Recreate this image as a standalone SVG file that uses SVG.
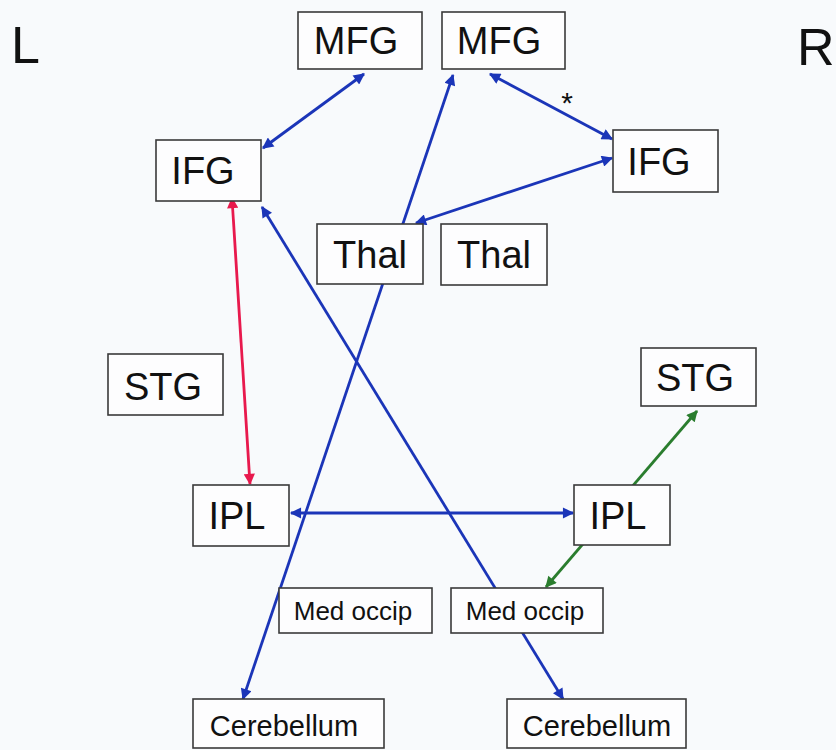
<svg xmlns="http://www.w3.org/2000/svg" width="836" height="750" viewBox="0 0 836 750">
<style>
.bg{fill:#f8fafc}
.box{fill:#fdfdfe;stroke:#3a3a3a;stroke-width:1.6}
.t{font-family:"Liberation Sans",Arial,sans-serif;fill:#111;text-anchor:middle}
.big{font-size:38px}
.sm{font-size:26px}
.cb{font-size:29px}
.side{font-family:"Liberation Sans",Arial,sans-serif;font-size:52px;fill:#111}
.b{stroke:#1b35b8;stroke-width:2.8;fill:none;marker-start:url(#ab);marker-end:url(#ab)}
.r{stroke:#e8194d;stroke-width:2.8;fill:none;marker-start:url(#ar);marker-end:url(#ar)}
.g{stroke:#2a7d2e;stroke-width:2.8;fill:none;marker-start:url(#ag);marker-end:url(#ag)}
</style>
<defs>
<marker id="ab" viewBox="0 0 10 10" refX="9" refY="5" markerWidth="4.5" markerHeight="4" orient="auto-start-reverse" markerUnits="strokeWidth"><path d="M0,0 L10,5 L0,10 z" fill="#1b35b8"/></marker>
<marker id="ar" viewBox="0 0 10 10" refX="9" refY="5" markerWidth="4.5" markerHeight="4" orient="auto-start-reverse" markerUnits="strokeWidth"><path d="M0,0 L10,5 L0,10 z" fill="#e8194d"/></marker>
<marker id="ag" viewBox="0 0 10 10" refX="9" refY="5" markerWidth="4.5" markerHeight="4" orient="auto-start-reverse" markerUnits="strokeWidth"><path d="M0,0 L10,5 L0,10 z" fill="#2a7d2e"/></marker>
</defs>
<rect class="bg" x="0" y="0" width="836" height="750"/>
<text class="side" x="11" y="63">L</text>
<text class="side" x="797" y="65">R</text>
<g id="connectors">
<line class="b" x1="364" y1="74" x2="263" y2="148"/>
<line class="b" x1="453" y1="75" x2="243" y2="699"/>
<line class="b" x1="490" y1="74" x2="612" y2="139"/>
<line class="b" x1="612" y1="158" x2="416" y2="223"/>
<line class="b" x1="262" y1="207" x2="563" y2="699"/>
<line class="b" x1="291" y1="513" x2="573" y2="513"/>
<line class="r" x1="232" y1="198" x2="250" y2="484"/>
<line class="g" x1="546" y1="587" x2="697" y2="411"/>
<text class="t" x="567" y="113" style="font-size:30px">*</text>
</g>
<g id="mfg-l"><rect class="box" x="298" y="12" width="124" height="57"/><text class="t big" x="356" y="54">MFG</text></g>
<g id="mfg-r"><rect class="box" x="442" y="12" width="123" height="57"/><text class="t big" x="499" y="54">MFG</text></g>
<g id="ifg-l"><rect class="box" x="156" y="140" width="105" height="61"/><text class="t big" x="203" y="184">IFG</text></g>
<g id="ifg-r"><rect class="box" x="613" y="130" width="105" height="62"/><text class="t big" x="659" y="175">IFG</text></g>
<g id="thal-l"><rect class="box" x="317" y="224" width="106" height="60"/><text class="t big" x="370" y="268">Thal</text></g>
<g id="thal-r"><rect class="box" x="441" y="224" width="106" height="61"/><text class="t big" x="494" y="268">Thal</text></g>
<g id="stg-l"><rect class="box" x="108" y="354" width="115" height="61"/><text class="t big" x="163" y="400">STG</text></g>
<g id="stg-r"><rect class="box" x="641" y="348" width="115" height="58"/><text class="t big" x="695" y="391">STG</text></g>
<g id="ipl-l"><rect class="box" x="193" y="485" width="96" height="61"/><text class="t big" x="237" y="529">IPL</text></g>
<g id="ipl-r"><rect class="box" x="574" y="485" width="96" height="60"/><text class="t big" x="618" y="529">IPL</text></g>
<g id="medoccip-l"><rect class="box" x="279" y="588" width="153" height="45"/><text class="t sm" x="353" y="620">Med occip</text></g>
<g id="medoccip-r"><rect class="box" x="451" y="588" width="152" height="45"/><text class="t sm" x="525" y="620">Med occip</text></g>
<g id="cerebellum-l"><rect class="box" x="193" y="699" width="191" height="49"/><text class="t cb" x="284" y="736">Cerebellum</text></g>
<g id="cerebellum-r"><rect class="box" x="507" y="699" width="179" height="49"/><text class="t cb" x="597" y="736">Cerebellum</text></g>
</svg>
